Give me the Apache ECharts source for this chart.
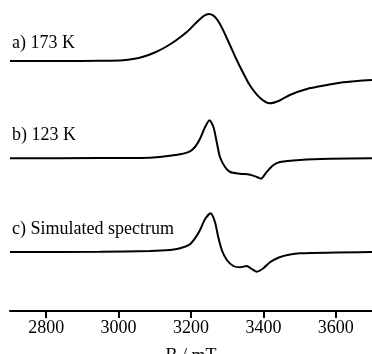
<!DOCTYPE html>
<html>
<head>
<meta charset="utf-8">
<script src="https://cdn.jsdelivr.net/npm/echarts@6/dist/echarts.min.js"></script>
<style>
  html, body { margin: 0; padding: 0; background: #fff; }
  #chart { width: 372px; height: 354px; }
</style>
</head>
<body>
<div id="chart"></div>
<script>
// field values (mT) and intensities (arbitrary units)
const fieldA = [2700, 2838, 2949, 3004, 3040, 3070, 3100, 3130, 3160, 3190, 3215, 3235, 3250, 3265, 3280, 3295, 3310, 3325, 3340, 3363, 3391, 3418, 3445, 3473, 3520, 3576, 3612, 3660, 3700];
const signalA = [0, 0, 0.3, 0.5, 2, 4.5, 8.5, 14, 21, 29.5, 38.5, 45, 47, 44.5, 37, 26, 14, 2, -9, -24.5, -37, -42.3, -39.5, -34, -28, -24, -21.7, -20, -19];

const fieldB = [2700, 2949, 3087, 3142, 3170, 3197, 3211, 3225, 3239, 3251, 3262, 3271, 3280, 3294, 3308, 3335, 3363, 3382, 3393, 3409, 3427, 3446, 3501, 3584, 3700];
const signalB = [0, 0.3, 0.6, 2.5, 4, 7, 11.3, 19.6, 31.3, 38, 31.3, 16.3, 1.3, -8.7, -13.7, -15.4, -16.4, -18.7, -20.4, -13.7, -7, -3.7, -1.7, -0.5, 0];

const fieldC = [2700, 2949, 3087, 3142, 3170, 3197, 3211, 3225, 3239, 3254, 3266, 3275, 3285, 3299, 3317, 3335, 3354, 3368, 3382, 3400, 3418, 3441, 3470, 3501, 3700];
const signalC = [0, 0.3, 1, 2, 3.7, 7.7, 13.7, 22, 33, 38.7, 30.3, 15.3, 2, -8, -14, -15.3, -14, -17, -19.7, -16.3, -10.3, -5.7, -2.8, -1.3, 0];

const traceLabels = ['a) 173 K', 'b) 123 K', 'c) Simulated spectrum'];
const traceOffsets = [250, 152.7, 59];
const tickValues = [2800, 3000, 3200, 3400, 3600];

const serif = '"Liberation Serif", "DejaVu Serif", serif';

function makeSeries(field, signal, offset) {
  return {
    type: 'line',
    data: field.map((b, i) => [b, signal[i] + offset]),
    smooth: 0.25,
    showSymbol: false,
    lineStyle: { color: '#000', width: 2 },
    silent: true
  };
}

const chart = echarts.init(document.getElementById('chart'));
chart.setOption({
  animation: false,
  grid: { left: 10, right: 0, top: 0, bottom: 43, outerBoundsMode: 'none' },
  xAxis: {
    type: 'value',
    min: 2700,
    max: 3700,
    name: 'B / mT',
    nameLocation: 'middle',
    nameGap: 36,
    nameTextStyle: { fontFamily: serif, fontSize: 18, color: '#000' },
    axisLine: { lineStyle: { color: '#000', width: 2 } },
    axisTick: { show: true, length: 7, customValues: tickValues, lineStyle: { color: '#000', width: 2 } },
    axisLabel: {
      customValues: tickValues,
      formatter: (v) => String(v),
      fontFamily: serif,
      fontSize: 18,
      color: '#000',
      margin: 8
    },
    splitLine: { show: false }
  },
  yAxis: { type: 'value', min: 0, max: 311, show: false },
  graphic: [
    { type: 'text', left: 12, top: 34, style: { text: traceLabels[0], font: '18px ' + serif, fill: '#000' } },
    { type: 'text', left: 12, top: 126, style: { text: traceLabels[1], font: '18px ' + serif, fill: '#000' } },
    { type: 'text', left: 12, top: 220, style: { text: traceLabels[2], font: '18px ' + serif, fill: '#000' } }
  ],
  series: [
    makeSeries(fieldA, signalA, traceOffsets[0]),
    makeSeries(fieldB, signalB, traceOffsets[1]),
    makeSeries(fieldC, signalC, traceOffsets[2])
  ]
});
</script>
</body>
</html>
